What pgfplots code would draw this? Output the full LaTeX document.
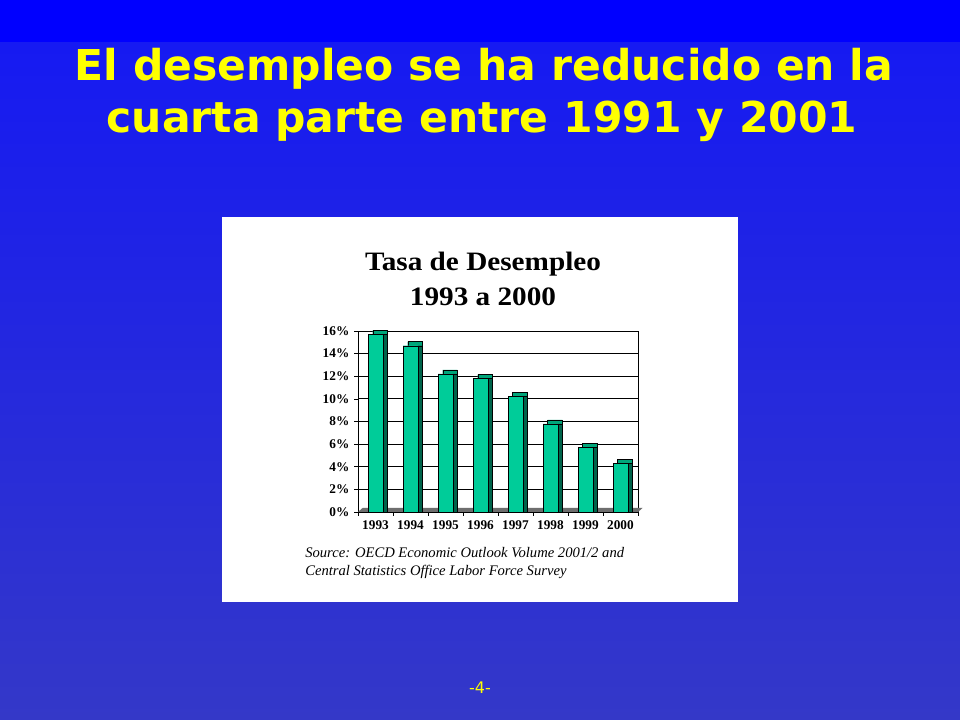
\documentclass[border=0pt]{standalone}
\usepackage{pgfplots}
\usepackage{pgfplotstable}
\pgfplotsset{compat=1.18}
\usepackage{fontspec}
\setmainfont{Liberation Serif}
\newfontfamily\verd{DejaVu Sans}

\definecolor{slidetop}{RGB}{0,0,255}
\definecolor{gradA}{RGB}{22,26,242}
\definecolor{gradB}{RGB}{52,56,200}
\definecolor{ttl}{RGB}{255,255,0}
\definecolor{barfront}{RGB}{0,204,153}
\definecolor{bartop}{RGB}{0,165,122}
\definecolor{barside}{RGB}{0,100,75}
\definecolor{floorgray}{RGB}{110,110,110}

% Tasa de desempleo (%), 1993-2000
\pgfplotstableread{
x y
0 15.7
1 14.7
2 12.2
3 11.8
4 10.2
5 7.8
6 5.7
7 4.3
}\unemp

\begin{document}
\begin{tikzpicture}
% slide background
\shade[top color=gradA, bottom color=gradB] (0,0) rectangle (720bp,508.5bp);
\fill[slidetop] (0,508.5bp) rectangle (720bp,540bp);
\node[font=\verd\bfseries\fontsize{32}{38}\selectfont, text=ttl, anchor=base, inner sep=0]
  at (363bp,479.25bp) {El desempleo se ha reducido en la};
\node[font=\verd\bfseries\fontsize{32}{38}\selectfont, text=ttl, anchor=base, inner sep=0]
  at (361.5bp,440.25bp) {cuarta parte entre 1991 y 2001};
\node[font=\verd\fontsize{12}{14}\selectfont, text=ttl] at (360bp,24bp) {-4-};

% white chart box
\fill[white] (166.5bp,88.5bp) rectangle (553.5bp,377.25bp);
\node[font=\bfseries\fontsize{20}{24}\selectfont, anchor=base, inner sep=0, xscale=1.1]
  at (362.25bp,336.75bp) {Tasa de Desempleo};
\node[font=\bfseries\fontsize{20}{24}\selectfont, anchor=base, inner sep=0, xscale=1.1]
  at (362.25bp,310.5bp) {1993 a 2000};
\node[font=\itshape\fontsize{11}{13}\selectfont, anchor=base west, inner sep=0]
  at (228.75bp,121.5bp) {Source: OECD Economic Outlook Volume 2001/2 and};
\node[font=\itshape\fontsize{11}{13}\selectfont, anchor=base west, inner sep=0]
  at (228.75bp,108bp) {Central Statistics Office Labor Force Survey};

\begin{axis}[
  at={(268.5bp,156bp)}, anchor=south west,
  scale only axis, width=210bp, height=135.75bp,
  xmin=-0.5, xmax=7.5, ymin=0, ymax=16,
  clip=false,
  axis line style={black, line width=0.6bp},
  ymajorgrids, grid style={black, line width=0.6bp},
  ytick={0,2,...,16},
  yticklabel={\pgfmathprintnumber{\tick}\%},
  xtick={0,...,7},
  xticklabels={1993,1994,1995,1996,1997,1998,1999,2000},
  minor xtick={-0.5,0.5,...,7.5},
  major x tick style={draw=none},
  xtick pos=bottom, ytick pos=left,
  tick style={black, line width=0.5bp},
  tick align=outside, major tick length=3bp, minor tick length=3bp,
  ticklabel style={font=\bfseries\fontsize{10}{11}\selectfont},
  /pgf/number format/assume math mode=true,
]
% floor
\fill[floorgray] (axis cs:-0.5,0) -- (axis cs:7.5,0)
  -- ([shift={(3.4bp,3bp)}]axis cs:7.5,0) -- ([shift={(3.4bp,3bp)}]axis cs:-0.5,0) -- cycle;
% bar top face
\addplot[ybar, bar width=11bp, bar shift=3.4bp, fill=bartop, draw=black, line width=0.3bp]
  table[x=x, y expr=\thisrow{y}+0.354] {\unemp};
% bar side face
\addplot[ybar, bar width=3.4bp, bar shift=7.2bp, fill=barside, draw=black, line width=0.3bp]
  table[x=x, y=y] {\unemp};
% bar front face
\addplot[ybar, bar width=11bp, bar shift=0pt, fill=barfront, draw=black, line width=0.3bp]
  table[x=x, y=y] {\unemp};
\end{axis}
\end{tikzpicture}
\end{document}
